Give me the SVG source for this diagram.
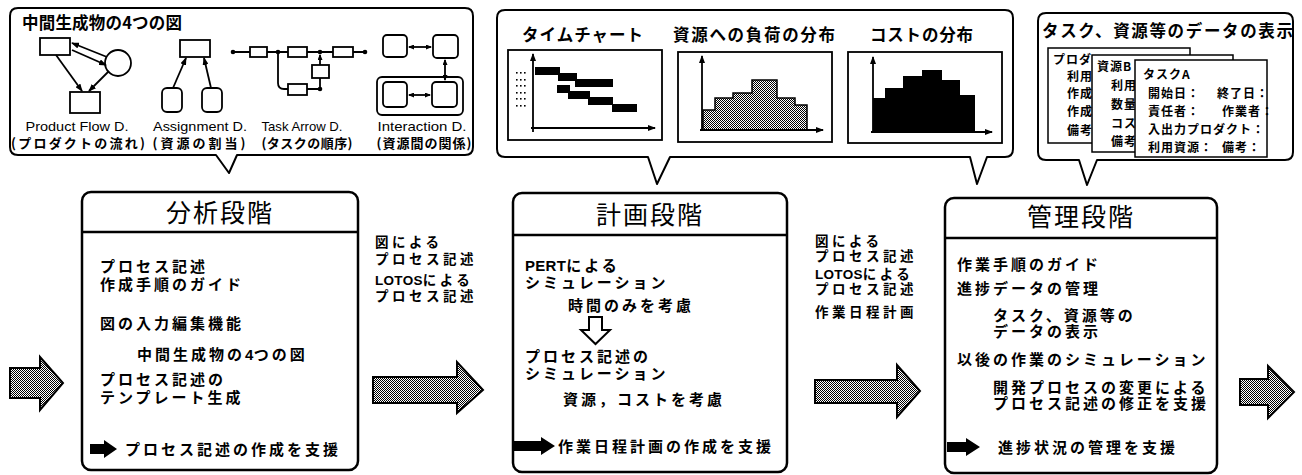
<svg xmlns="http://www.w3.org/2000/svg" width="1302" height="475" viewBox="0 0 1302 475">
<defs>
<style>
text{font-family:"Noto Sans CJK JP",sans-serif;fill:#000}
.b{font-size:15px;font-weight:bold;letter-spacing:3px}
.m{font-size:13.5px;font-weight:bold;letter-spacing:3.5px}
.t{font-size:25px;letter-spacing:2px;text-anchor:middle}
.h{font-size:16.5px;font-weight:bold}
.l{font-family:"Liberation Sans",sans-serif;font-size:13.5px;text-anchor:middle}
.j{font-size:13px;font-weight:bold;text-anchor:middle}
.c{font-size:12px;font-weight:bold;letter-spacing:1px}
.lat{font-family:"Liberation Sans",sans-serif;font-weight:bold;letter-spacing:0.3px}
.frame{fill:#fff;stroke:#000;stroke-width:2;stroke-linejoin:round}
.box{fill:#fff;stroke:#000;stroke-width:2.5}
.ln{fill:none;stroke:#000;stroke-width:1.8}
.nd{fill:#fff;stroke:#000;stroke-width:1.8}
.card{fill:#fff;stroke:#000;stroke-width:1.5}
.sh{fill:url(#stip);stroke:#000;stroke-width:2}
.blk{fill:#000}
</style>
<pattern id="stip" width="2" height="2" patternUnits="userSpaceOnUse"><rect width="2" height="2" fill="#fff"/><rect width="1" height="1" fill="#000"/><rect x="1" y="1" width="1" height="1" fill="#000"/></pattern>
<marker id="ah" markerWidth="8" markerHeight="6" refX="7" refY="3" orient="auto-start-reverse" markerUnits="userSpaceOnUse"><path d="M0,0L8,3L0,6z"/></marker>
<marker id="as" markerWidth="6" markerHeight="5" refX="5" refY="2.5" orient="auto-start-reverse" markerUnits="userSpaceOnUse"><path d="M0,0L6,2.5L0,5z"/></marker>
</defs>
<rect width="1302" height="475" fill="#fff"/>

<!-- Callout 1: four diagrams -->
<g id="callout-diagrams">
<path class="frame" d="M18,8H465Q473,8 473,16V147Q473,155 465,155H237L229,173L216,155H18Q10,155 10,147V16Q10,8 18,8Z"/>
<text class="h" x="22" y="29" textLength="160" lengthAdjust="spacing">中間生成物の4つの図</text>
<!-- Product Flow -->
<rect class="nd" x="40" y="38" width="30" height="17"/>
<circle class="nd" cx="118" cy="63" r="13"/>
<rect class="nd" x="70" y="92" width="30" height="21"/>
<path class="ln" d="M107,57L72,43" marker-end="url(#ah)"/>
<path class="ln" d="M72,50L106,65" marker-end="url(#ah)"/>
<path class="ln" d="M56,55L82,91" marker-end="url(#ah)"/>
<path class="ln" d="M109,71L89,91" marker-end="url(#ah)"/>
<text class="l" x="77" y="131" textLength="103" lengthAdjust="spacingAndGlyphs">Product Flow D.</text>
<text class="j" x="78" y="148" textLength="134" lengthAdjust="spacing">(プロダクトの流れ)</text>
<!-- Assignment -->
<rect class="nd" x="180" y="40" width="30" height="17"/>
<rect class="nd" x="162" y="88" width="20" height="24" rx="5"/>
<rect class="nd" x="202" y="88" width="20" height="24" rx="5"/>
<path class="ln" d="M173,88L186,58" marker-end="url(#ah)"/>
<path class="ln" d="M211,88L204,58" marker-end="url(#ah)"/>
<text class="l" x="200" y="131" textLength="94" lengthAdjust="spacingAndGlyphs">Assignment D.</text>
<text class="j" x="199" y="148" textLength="93" lengthAdjust="spacing">(資源の割当)</text>
<!-- Task Arrow -->
<path class="ln" d="M233,52H250M267,52H288M307,52H333M353,52H365"/>
<circle cx="233" cy="52" r="2.3"/><circle cx="278" cy="52" r="2.3"/><circle cx="320" cy="52" r="2.3"/><circle cx="365" cy="52" r="2.3"/>
<rect class="nd" x="250" y="47" width="17" height="10"/>
<rect class="nd" x="288" y="47" width="19" height="10"/>
<rect class="nd" x="333" y="47" width="20" height="10"/>
<rect class="nd" x="312" y="65" width="17" height="13"/>
<rect class="nd" x="288" y="84" width="19" height="11"/>
<path class="ln" d="M278,52V83Q278,89 284,89H288M307,89H320V78"/>
<circle cx="320" cy="89" r="2.3"/>
<path class="ln" d="M320,65V55" marker-end="url(#as)"/>
<text class="l" x="302" y="131" textLength="81" lengthAdjust="spacingAndGlyphs">Task Arrow D.</text>
<text class="j" x="307" y="148" textLength="91" lengthAdjust="spacing">(タスクの順序)</text>
<!-- Interaction -->
<rect class="nd" x="383" y="35" width="24" height="22" rx="4"/>
<rect class="nd" x="433" y="35" width="25" height="23" rx="4"/>
<rect class="nd" x="377" y="77" width="86" height="38" rx="5"/>
<rect class="nd" x="383" y="82" width="24" height="25" rx="4"/>
<rect class="nd" x="432" y="82" width="25" height="25" rx="4"/>
<path class="ln" d="M409,47H431" marker-start="url(#as)" marker-end="url(#as)"/>
<path class="ln" d="M409,95H430" marker-start="url(#as)" marker-end="url(#as)"/>
<path class="ln" d="M445,60V80" marker-start="url(#as)" marker-end="url(#as)"/>
<text class="l" x="422" y="131" textLength="89" lengthAdjust="spacingAndGlyphs">Interaction D.</text>
<text class="j" x="424" y="148" textLength="95" lengthAdjust="spacing">(資源間の関係)</text>
</g>

<!-- Callout 2: charts -->
<g id="callout-charts">
<path class="frame" d="M505,10H1005Q1013,10 1013,18V149Q1013,157 1005,157H987L977,184L970,157H670L657,184L648,157H505Q497,157 497,149V18Q497,10 505,10Z"/>
<text class="h" x="522" y="41" textLength="121" lengthAdjust="spacing">タイムチャート</text>
<text class="h" x="673" y="41" textLength="162" lengthAdjust="spacing">資源への負荷の分布</text>
<text class="h" x="870" y="41" textLength="103" lengthAdjust="spacing">コストの分布</text>
<!-- chart 1 -->
<rect class="nd" x="508" y="50" width="154" height="90"/>
<g class="blk">
<rect x="516" y="72" width="1.6" height="1.6"/><rect x="520" y="72" width="1.6" height="1.6"/><rect x="524" y="72" width="1.6" height="1.6"/>
<rect x="516" y="79" width="1.6" height="1.6"/><rect x="520" y="79" width="1.6" height="1.6"/><rect x="524" y="79" width="1.6" height="1.6"/>
<rect x="516" y="85" width="1.6" height="1.6"/><rect x="520" y="85" width="1.6" height="1.6"/><rect x="524" y="85" width="1.6" height="1.6"/>
<rect x="516" y="92" width="1.6" height="1.6"/><rect x="520" y="92" width="1.6" height="1.6"/><rect x="524" y="92" width="1.6" height="1.6"/>
<rect x="516" y="98" width="1.6" height="1.6"/><rect x="520" y="98" width="1.6" height="1.6"/><rect x="524" y="98" width="1.6" height="1.6"/>
<rect x="516" y="105" width="1.6" height="1.6"/><rect x="520" y="105" width="1.6" height="1.6"/><rect x="524" y="105" width="1.6" height="1.6"/>
<rect x="535" y="67" width="25" height="8"/>
<rect x="558" y="73" width="19" height="8"/>
<rect x="575" y="79" width="38" height="8"/>
<rect x="557" y="85" width="13" height="8"/>
<rect x="568" y="91" width="22" height="8"/>
<rect x="588" y="97" width="25" height="8"/>
<rect x="612" y="104" width="25" height="8"/>
</g>
<path class="ln" d="M533,132V54" marker-end="url(#ah)"/>
<path class="ln" d="M531,128H655" marker-end="url(#ah)"/>
<!-- chart 2 -->
<rect class="nd" x="678" y="52" width="154" height="90"/>
<path d="M703,130V110H715V98H733V93H752V80H777V98H795V105H807V130Z" fill="url(#stip)" stroke="#000" stroke-width="1.5"/>
<path class="ln" d="M702,131V56" marker-end="url(#ah)"/>
<path class="ln" d="M700,130H823" marker-end="url(#ah)"/>
<!-- chart 3 -->
<rect class="nd" x="848" y="52" width="154" height="91"/>
<path class="blk" d="M873,132V98H885V88H903V76H922V70H942V80H960V95H975V132Z"/>
<path class="ln" d="M873,133V57" marker-end="url(#ah)"/>
<path class="ln" d="M871,132H992" marker-end="url(#ah)"/>
</g>

<!-- Callout 3: data display -->
<g id="callout-data">
<path class="frame" d="M1046,13H1285Q1293,13 1293,21V152Q1293,160 1285,160H1097L1087,185L1079,160H1046Q1038,160 1038,152V21Q1038,13 1046,13Z"/>
<text class="h" x="1042" y="37" textLength="251" lengthAdjust="spacing">タスク、資源等のデータの表示</text>
<rect class="card" x="1048" y="48" width="142" height="95"/>
<text class="c" x="1053" y="64">プロダ</text>
<text class="c" x="1067" y="81">利用</text>
<text class="c" x="1067" y="98">作成</text>
<text class="c" x="1067" y="116">作成</text>
<text class="c" x="1067" y="135">備考</text>
<rect class="card" x="1092" y="55" width="141" height="97"/>
<text class="c" x="1097" y="71">資源B</text>
<text class="c" x="1111" y="90">利用</text>
<text class="c" x="1111" y="109">数量</text>
<text class="c" x="1111" y="128">コス</text>
<text class="c" x="1111" y="146">備考</text>
<rect class="card" x="1135" y="60" width="132" height="97"/>
<text class="c" x="1143" y="79">タスクA</text>
<text class="c" x="1148" y="98">開始日：</text>
<text class="c" x="1217" y="98">終了日：</text>
<text class="c" x="1148" y="116">責任者：</text>
<text class="c" x="1222" y="116">作業者：</text>
<text class="c" x="1148" y="134">入出力プロダクト：</text>
<text class="c" x="1148" y="152">利用資源：</text>
<text class="c" x="1222" y="152">備考：</text>
</g>

<!-- Stage 1 -->
<g id="stage-analysis">
<rect class="box" x="82" y="192" width="276" height="278" rx="9"/>
<line x1="82" y1="232" x2="358" y2="232" stroke="#000" stroke-width="2.5"/>
<text class="t" x="220" y="222">分析段階</text>
<text class="b" x="100" y="272">プロセス記述</text>
<text class="b" x="100" y="290">作成手順のガイド</text>
<text class="b" x="100" y="329">図の入力編集機能</text>
<text class="b" x="137" y="360">中間生成物の<tspan class="lat">4</tspan>つの図</text>
<text class="b" x="100" y="385">プロセス記述の</text>
<text class="b" x="100" y="403">テンプレート生成</text>
<path class="blk" d="M90,444H104V440L117,449L104,458V454H90Z"/>
<text class="b" x="125" y="455">プロセス記述の作成を支援</text>
</g>

<!-- Stage 2 -->
<g id="stage-planning">
<rect class="box" x="513" y="193" width="274" height="279" rx="9"/>
<line x1="513" y1="235" x2="787" y2="235" stroke="#000" stroke-width="2.5"/>
<text class="t" x="650" y="224">計画段階</text>
<text class="b" x="525" y="271"><tspan class="lat">PERT</tspan>による</text>
<text class="b" x="525" y="288">シミュレーション</text>
<text class="b" x="568" y="311">時間のみを考慮</text>
<path d="M589,317H602V330H610L595.5,344L581,330H589Z" fill="#fff" stroke="#000" stroke-width="2"/>
<text class="b" x="525" y="362">プロセス記述の</text>
<text class="b" x="525" y="379">シミュレーション</text>
<text class="b" x="563" y="405">資源，コストを考慮</text>
<path class="blk" d="M514,441H541V437L555,446L541,455V451H514Z"/>
<text class="b" x="558" y="452">作業日程計画の作成を支援</text>
</g>

<!-- Stage 3 -->
<g id="stage-management">
<rect class="box" x="945" y="198" width="272" height="275" rx="9"/>
<line x1="945" y1="238" x2="1217" y2="238" stroke="#000" stroke-width="2.5"/>
<text class="t" x="1081" y="226">管理段階</text>
<text class="b" x="957" y="270">作業手順のガイド</text>
<text class="b" x="957" y="294">進捗データの管理</text>
<text class="b" x="993" y="321">タスク、資源等の</text>
<text class="b" x="993" y="337">データの表示</text>
<text class="b" x="957" y="365">以後の作業のシミュレーション</text>
<text class="b" x="993" y="393">開発プロセスの変更による</text>
<text class="b" x="993" y="409">プロセス記述の修正を支援</text>
<path class="blk" d="M947,442H966V438L980,447L966,456V452H947Z"/>
<text class="b" x="998" y="453">進捗状況の管理を支援</text>
</g>

<!-- Connectors -->
<g id="connectors">
<path class="sh" d="M10,368H40V357L63,383L40,410V398H10Z"/>
<text class="m" x="375" y="247">図による</text>
<text class="m" x="375" y="264">プロセス記述</text>
<text class="m" x="375" y="285"><tspan class="lat">LOTOS</tspan>による</text>
<text class="m" x="375" y="301">プロセス記述</text>
<path class="sh" d="M373,377H457V362L483,390L457,413V403H373Z"/>
<text class="m" x="815" y="246">図による</text>
<text class="m" x="815" y="261">プロセス記述</text>
<text class="m" x="815" y="279"><tspan class="lat">LOTOS</tspan>による</text>
<text class="m" x="815" y="294">プロセス記述</text>
<text class="m" x="815" y="317">作業日程計画</text>
<path class="sh" d="M815,380H897V365L920,391L897,417V403H815Z"/>
<path class="sh" d="M1240,379H1268V366L1294,392L1268,418V405H1240Z"/>
</g>
</svg>
